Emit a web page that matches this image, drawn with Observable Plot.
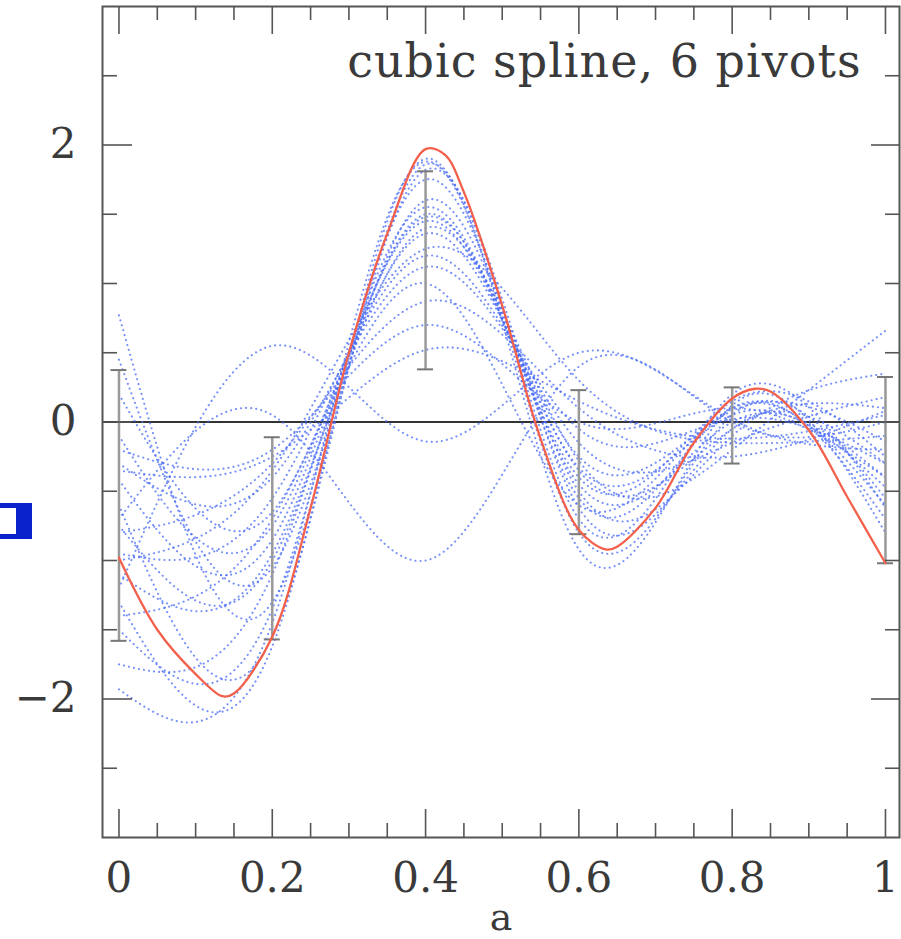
<!DOCTYPE html>
<html><head><meta charset="utf-8">
<script src="https://cdn.jsdelivr.net/npm/d3@7"></script>
<script src="https://cdn.jsdelivr.net/npm/@observablehq/plot@0.6"></script>
<style>
html,body{margin:0;padding:0;background:#fff;}
#wrap{position:relative;width:901px;height:939px;overflow:hidden;}
#box{position:absolute;left:0;top:503px;width:32px;height:36px;background:#0a22cc;}
#box div{position:absolute;left:0;top:5px;width:16px;height:26px;background:#fff;}
</style></head><body>
<div id="wrap"><div id="chart"></div><div id="box"><div></div></div></div>
<script>
// pivot positions of the cubic spline
const pivots = [0, 0.2, 0.4, 0.6, 0.8, 1.0];
// sampled spline curves: values at the six pivots
const samples = [
  [-1.30, -1.62, 1.90, -0.92, 0.12, -0.80],
  [-1.93, -1.45, 1.88, -0.80, 0.05, -0.55],
  [-0.60, -1.55, 1.86, -0.70, 0.20, -0.62],
  [0.77, -1.30, 1.82, -0.62, -0.05, -0.30],
  [-1.50, -1.35, 1.75, -0.55, 0.10, -0.70],
  [0.45, -1.05, 1.60, -0.50, -0.10, 0.35],
  [-1.75, -1.10, 1.55, -0.45, 0.00, -0.40],
  [-0.75, -1.00, 1.50, -0.40, 0.15, -0.25],
  [-0.42, -0.85, 1.48, -0.35, -0.05, 0.10],
  [-0.10, -0.75, 1.45, -0.33, 0.05, -0.47],
  [-1.10, -0.95, 1.40, -0.28, -0.20, 0.66],
  [0.20, -0.65, 1.36, -0.25, 0.08, -0.14],
  [-0.95, -0.55, 1.20, -0.15, -0.15, 0.18],
  [-0.30, -0.40, 1.12, -0.05, 0.02, -0.30],
  [-1.40, -0.70, 1.00, -0.60, 0.10, -0.60],
  [-0.80, -0.30, 0.87, 0.10, -0.25, 0.08],
  [-0.35, -0.25, 0.52, 0.15, -0.12, 0.05],
  [-1.20, 0.55, -0.14, 0.50, 0.02, -0.20],
  [-0.70, 0.05, -1.00, 0.40, 0.00, 0.00],
  [-1.00, -0.35, 1.25, 0.30, -0.15, -0.10],
  [-0.20, -0.20, 0.70, 0.00, 0.10, -0.40]
];
// true function (red)
const trueX = [0, 0.05, 0.1, 0.135, 0.15, 0.2, 0.25, 0.3, 0.35, 0.4, 0.425, 0.45, 0.5, 0.55, 0.6, 0.635, 0.65, 0.7, 0.75, 0.8, 0.83, 0.85, 0.9, 0.95, 1];
const trueY = [-0.98, -1.50, -1.82, -1.98, -1.96, -1.55, -0.62, 0.50, 1.36, 1.97, 1.93, 1.66, 0.84, -0.12, -0.78, -0.92, -0.90, -0.62, -0.15, 0.17, 0.24, 0.22, -0.06, -0.54, -1.02];
// error bars at the pivots
const errLo = [-1.58, -1.57, 0.38, -0.81, -0.30, -1.02];
const errHi = [0.375, -0.11, 1.81, 0.23, 0.25, 0.325];
// ticks
const xMajor = [0, 0.2, 0.4, 0.6, 0.8, 1];
const xMinor = [0.05, 0.1, 0.15, 0.25, 0.3, 0.35, 0.45, 0.5, 0.55, 0.65, 0.7, 0.75, 0.85, 0.9, 0.95];
const yMajor = [-2, 0, 2];
const yMinor = [-2.5, -1.5, -1, -0.5, 0.5, 1, 1.5, 2.5];
const title = "cubic spline, 6 pivots";
const xLabel = "a";

const sampleRows = samples.flatMap((s, id) => s.map((y, i) => ({id, x: pivots[i], y})));
const trueRows = trueX.map((x, i) => ({x, y: trueY[i]}));
const errRows = pivots.map((x, i) => ({x, lo: errLo[i], hi: errHi[i]}));

const W = 901, H = 939, mL = 102, mR = 2, mT = 6, mB = 102;
const fw = W - mL - mR, fh = H - mT - mB;
const axc = "#555";

const chart = Plot.plot({
  width: W, height: H,
  marginLeft: mL, marginRight: mR, marginTop: mT, marginBottom: mB,
  x: {domain: [-0.0215, 1.0183]},
  y: {domain: [-3, 3]},
  style: {fontFamily: "DejaVu Serif", fontSize: "42px", color: "#3a3a3a", background: "#fff"},
  marks: [
    Plot.ruleY([0], {stroke: "#333", strokeWidth: 2}),
    Plot.line(sampleRows, {x: "x", y: "y", z: "id", curve: "natural", stroke: "#4a6cf6",
      strokeWidth: 2.1, strokeDasharray: "0.1 5", strokeLinecap: "round", strokeOpacity: 0.75}),
    Plot.ruleX(errRows, {x: "x", y1: "lo", y2: "hi", stroke: "#999", strokeWidth: 2.5}),
    Plot.ruleY(errRows, {y: "lo", x1: "x", x2: "x", insetLeft: -8, insetRight: -8, stroke: "#777", strokeWidth: 2}),
    Plot.ruleY(errRows, {y: "hi", x1: "x", x2: "x", insetLeft: -8, insetRight: -8, stroke: "#777", strokeWidth: 2}),
    Plot.line(trueRows, {x: "x", y: "y", curve: "catmull-rom", stroke: "#f3604c", strokeWidth: 2.3}),
    Plot.ruleX(xMajor, {insetTop: fh - 28, stroke: axc, strokeWidth: 1.6}),
    Plot.ruleX(xMajor, {insetBottom: fh - 28, stroke: axc, strokeWidth: 1.6}),
    Plot.ruleX(xMinor, {insetTop: fh - 14, stroke: axc, strokeWidth: 1.6}),
    Plot.ruleX(xMinor, {insetBottom: fh - 14, stroke: axc, strokeWidth: 1.6}),
    Plot.ruleY(yMajor, {insetRight: fw - 30, stroke: axc, strokeWidth: 1.6}),
    Plot.ruleY(yMajor, {insetLeft: fw - 28, stroke: axc, strokeWidth: 1.6}),
    Plot.ruleY(yMinor, {insetRight: fw - 15, stroke: axc, strokeWidth: 1.6}),
    Plot.ruleY(yMinor, {insetLeft: fw - 14, stroke: axc, strokeWidth: 1.6}),
    Plot.frame({stroke: axc, strokeWidth: 2}),
    Plot.axisX(xMajor, {tickSize: 0, tickPadding: 25, tickFormat: d => String(d), label: null}),
    Plot.axisY(yMajor, {tickSize: 0, tickPadding: 26, tickFormat: d => d < 0 ? "\u2212" + (-d) : String(d), label: null}),
    Plot.text([xLabel], {frameAnchor: "bottom", dy: 80, lineAnchor: "middle", fontSize: 38, text: d => d}),
    Plot.text([title], {frameAnchor: "top-right", textAnchor: "end", lineAnchor: "top", dx: -38, dy: 38, fontSize: 46, text: d => d, className: "ttl"})
  ]
});
document.getElementById("chart").appendChild(chart);
chart.querySelectorAll(".ttl text").forEach(t => t.setAttribute("letter-spacing", "1"));
</script>
</body></html>
